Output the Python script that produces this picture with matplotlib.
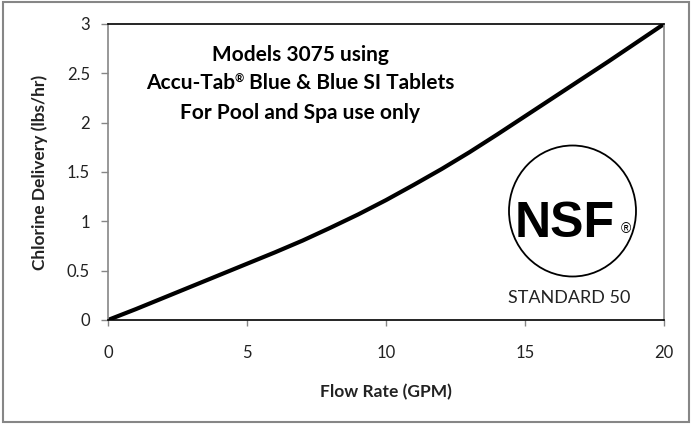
import matplotlib
matplotlib.use("Agg")
import matplotlib.pyplot as plt
from matplotlib.patches import Rectangle, Ellipse

# Chlorine delivery curve
flow_gpm = [0, 1, 2, 3, 4, 5, 6, 7, 8, 9, 10,
            11, 12, 13, 14, 15, 16, 17, 18, 19, 20]
chlorine_lbs_hr = [0.0, 0.11, 0.225, 0.34, 0.455, 0.57, 0.685, 0.805, 0.935, 1.07, 1.215,
                   1.37, 1.53, 1.70, 1.88, 2.065, 2.25, 2.435, 2.62, 2.81, 3.0]

x_ticks = [0, 5, 10, 15, 20]
y_ticks = [0, 0.5, 1, 1.5, 2, 2.5, 3]
y_tick_labels = ["0", "0.5", "1", "1.5", "2", "2.5", "3"]

W, H = 692, 425
FONT = ["Lato", "DejaVu Sans"]
GRAY = "#868686"
TITLE_SIZE = 15


def fx(px):
    return px / W


def fy(py):
    return 1 - py / H


fig = plt.figure(figsize=(W / 100, H / 100), dpi=100)
fig.patch.set_facecolor("white")
renderer = fig.canvas.get_renderer()

# outer chart border
fig.patches.append(Rectangle((fx(3), fy(422)), fx(686), 420 / H,
                             transform=fig.transFigure, fill=False,
                             edgecolor=GRAY, linewidth=1.5))

ax = fig.add_axes([fx(108), fy(320), fx(664 - 108), (320 - 24) / H])
ax.plot(flow_gpm, chlorine_lbs_hr, color="black", linewidth=3,
        solid_capstyle="butt")
ax.set_xlim(0, 20)
ax.set_ylim(0, 3)
ax.set_xticks(x_ticks)
ax.set_xticklabels([str(t) for t in x_ticks])
ax.set_yticks(y_ticks)
ax.set_yticklabels(y_tick_labels)

for lbl in ax.get_xticklabels() + ax.get_yticklabels():
    lbl.set_family(FONT)
    lbl.set_fontsize(12)
    lbl.set_color("#222222")

ax.tick_params(axis="y", direction="out", length=5, width=1, color=GRAY, pad=8)
ax.tick_params(axis="x", direction="out", length=4, width=1, color=GRAY, pad=14)

ax.spines["left"].set_color(GRAY)
ax.spines["right"].set_color(GRAY)
ax.spines["bottom"].set_color("black")
ax.spines["top"].set_color("black")
for s in ax.spines.values():
    s.set_linewidth(1.2)

fig.text(fx(386), fy(392), "Flow Rate (GPM)", family=FONT, fontsize=12.5,
         fontweight="bold", ha="center", va="center", color="#222222")
fig.text(fx(40), fy(172), "Chlorine Delivery (lbs/hr)", family=FONT, fontsize=12.5,
         fontweight="bold", ha="center", va="center", rotation=90, color="#222222")

# annotation block
fig.text(fx(300), fy(55), "Models 3075 using", family=FONT, fontsize=TITLE_SIZE,
         fontweight="bold", ha="center", va="center", color="black")
fig.text(fx(300), fy(113), "For Pool and Spa use only", family=FONT,
         fontsize=TITLE_SIZE, fontweight="bold", ha="center", va="center",
         color="black")

# middle line with small raised registered mark, laid out piece by piece
parts = [("Accu-Tab", TITLE_SIZE, 0), ("\u00ae", 8, 6),
         (" Blue & Blue SI Tablets", TITLE_SIZE, 0)]
widths = []
for txt, size, _ in parts:
    t = fig.text(0, 0, txt, family=FONT, fontsize=size, fontweight="bold")
    widths.append(t.get_window_extent(renderer).width)
    t.remove()
x0 = 300 - sum(widths) / 2
for (txt, size, raise_px), w in zip(parts, widths):
    fig.text(fx(x0), fy(89 - raise_px), txt, family=FONT, fontsize=size,
             fontweight="bold", ha="left", va="baseline", color="black")
    x0 += w

# NSF mark
fig.patches.append(Ellipse((fx(572.5), fy(211)), 127 / W, 131 / H,
                           transform=fig.transFigure, fill=False,
                           edgecolor="black", linewidth=1.3))
fig.text(fx(565), fy(237), "NSF", family=["Liberation Sans", "DejaVu Sans"],
         fontsize=36, fontweight="bold", ha="center", va="baseline", color="black")
fig.text(fx(626), fy(229), "\u00ae", family=["Liberation Sans", "DejaVu Sans"],
         fontsize=10, ha="center", va="center", color="black")
fig.text(fx(569), fy(298), "STANDARD 50", family=FONT, fontsize=13,
         ha="center", va="center", color="#222222")

fig.savefig("out.png", dpi=100, facecolor="white")
